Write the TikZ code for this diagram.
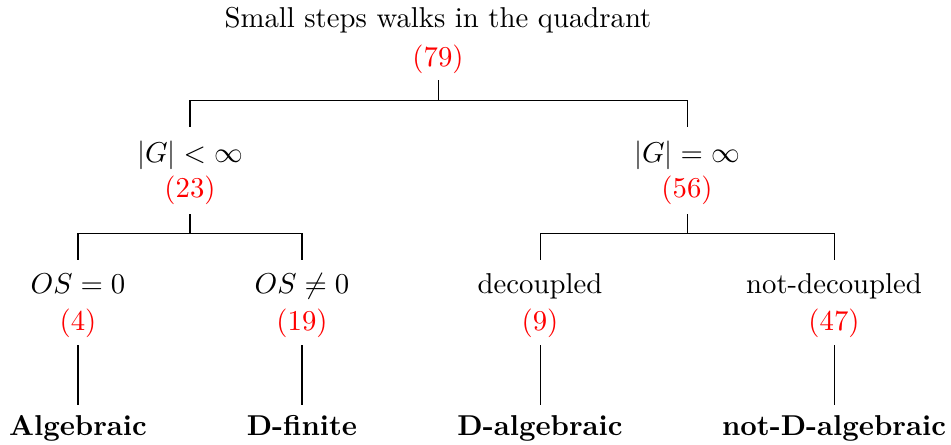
\documentclass[tikz,border=0pt]{standalone}
\usepackage{amsmath}
\begin{document}
\begin{tikzpicture}[x=0.348pt,y=-0.348pt,
  lab/.style={inner sep=0pt, anchor=base},
  cnt/.style={inner sep=0pt, anchor=base, text=red},
  res/.style={inner sep=0pt, anchor=base, font=\bfseries},
  edge/.style={draw=black, line width=0.35pt}]
\useasboundingbox (0,0) rectangle (951,444);
% level 0
\node[lab] (t0) at (438,27) {Small steps walks in the quadrant};
\node[cnt] (c0) at (438,66) {(79)};
% level 1
\node[lab] (t1) at (190,162) {$|G|<\infty$};
\node[cnt] (c1) at (190,197) {(23)};
\node[lab] (t2) at (687,162) {$|G|=\infty$};
\node[cnt] (c2) at (687,197) {(56)};
% level 2
\node[lab] (t3) at (78,293) {$OS=0$};
\node[cnt] (c3) at (78,330) {(4)};
\node[lab] (t4) at (302,293) {$OS\neq 0$};
\node[cnt] (c4) at (302,330) {(19)};
\node[lab] (t5) at (540,293) {decoupled};
\node[cnt] (c5) at (540,330) {(9)};
\node[lab] (t6) at (834,293) {not-decoupled};
\node[cnt] (c6) at (834,330) {(47)};
% results
\node[res] (r3) at (78,435) {Algebraic};
\node[res] (r4) at (302,435) {D-finite};
\node[res] (r5) at (540,435) {D-algebraic};
\node[res] (r6) at (834,435) {not-D-algebraic};
% coordinates
\coordinate (a0) at (438,80);
\coordinate (j0) at (438,100);
\coordinate (e1) at (190,127);
\coordinate (e2) at (687,127);
\coordinate (a1) at (190,214);
\coordinate (j1) at (190,233);
\coordinate (e3) at (78,260);
\coordinate (e4) at (302,260);
\coordinate (a2) at (687,214);
\coordinate (j2) at (687,233);
\coordinate (e5) at (540,260);
\coordinate (e6) at (834,260);
\coordinate (s3) at (78,345);
\coordinate (s4) at (302,345);
\coordinate (s5) at (540,345);
\coordinate (s6) at (834,345);
\coordinate (b3) at (78,405);
\coordinate (b4) at (302,405);
\coordinate (b5) at (540,405);
\coordinate (b6) at (834,405);
% connectors
\draw[edge] (a0) -- (j0);
\draw[edge] (j0) -| (e1);
\draw[edge] (j0) -| (e2);
\draw[edge] (a1) -- (j1);
\draw[edge] (j1) -| (e3);
\draw[edge] (j1) -| (e4);
\draw[edge] (a2) -- (j2);
\draw[edge] (j2) -| (e5);
\draw[edge] (j2) -| (e6);
\draw[edge] (s3) -- (b3);
\draw[edge] (s4) -- (b4);
\draw[edge] (s5) -- (b5);
\draw[edge] (s6) -- (b6);
\end{tikzpicture}
\end{document}
